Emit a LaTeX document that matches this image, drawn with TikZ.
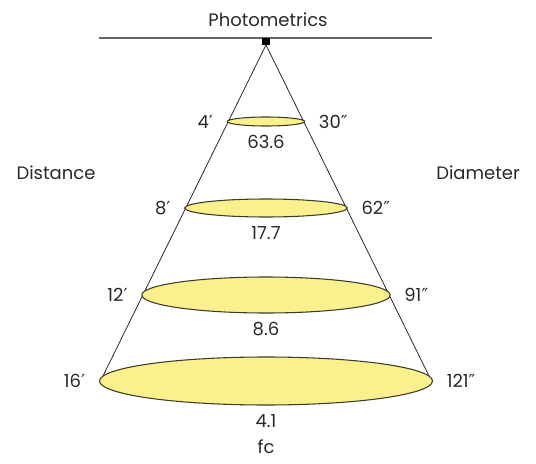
\documentclass[tikz,border=0pt]{standalone}
\usepackage{fontspec}
\setmainfont{Poppins}
\newfontfamily\primefont{DejaVu Sans}
\usepackage{tikz}
\usetikzlibrary{calc}

\definecolor{beamfill}{RGB}{250,240,140}
\definecolor{beamline}{RGB}{60,60,40}
\definecolor{labeltext}{RGB}{40,40,40}

\newcommand{\ft}{{\primefont ′}}
\newcommand{\inch}{{\primefont ″}}

\tikzset{
  beam/.style={fill=beamfill, draw=beamline, line width=0.8pt},
  cone/.style={draw=labeltext, line width=0.6pt},
  lbl/.style={text=labeltext, inner sep=0pt}
}

\begin{document}
\begin{tikzpicture}[x=0.75pt, y=-0.75pt, font=\fontsize{13.5}{16}\selectfont]
\useasboundingbox (0,0) rectangle (536,464);

\node[lbl] (title) at (268,20) {Photometrics};
\draw[gray!80!black, line width=0.8pt] (99,38) -- (432,38);
\node[fill=black, inner sep=0pt, minimum width=6pt, minimum height=5.5pt] (lamp) at (266,41.5) {};

\coordinate (apex) at (266,45);
\coordinate (left) at (100.5,381);
\coordinate (right) at (431.5,381);
\draw[cone] (apex) -- (left);
\draw[cone] (apex) -- (right);

\node[lbl] (distance) at (56,173) {Distance};
\node[lbl] (diameter) at (478,173) {Diameter};

% rings: centre y / half height / distance / diameter / fc
\foreach \y/\ry/\dist/\diam/\fc/\n in {121.5/4.5/4/30/63.6/1, 208/9/8/62/17.7/2, 295/18/12/91/8.6/3, 381/24/16/121/4.1/4} {
    \pgfmathsetmacro\rx{(\y-45)*0.49256+1}
    \path[beam] (266,\y) ellipse [x radius=\rx*0.75pt, y radius=\ry*0.75pt];
    \node[lbl, anchor=east] (dist\n) at (266-\rx-14,\y) {\dist\ft};
    \node[lbl, anchor=west] (diam\n) at (266+\rx+14,\y) {\diam\inch};
    \node[lbl] (fc\n) at (266,\y+\ry+16) {\fc};
}

\node[lbl] (unit) at (266,447) {fc};
\end{tikzpicture}
\end{document}
